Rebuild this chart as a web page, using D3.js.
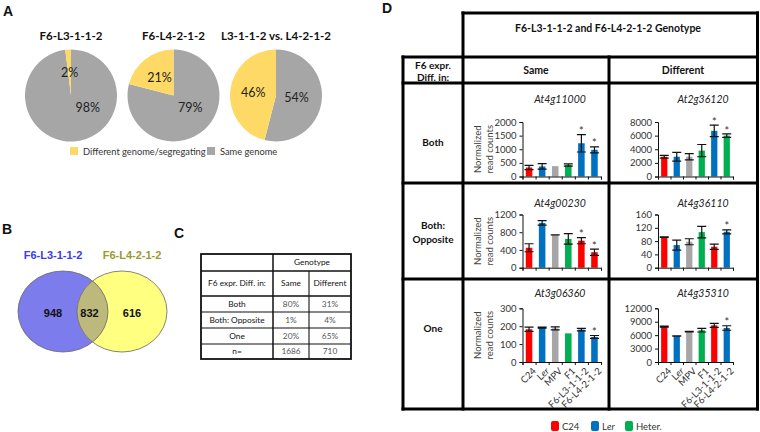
<!DOCTYPE html>
<html><head><meta charset="utf-8">
<script src="https://cdn.jsdelivr.net/npm/d3@7"></script>
<style>
html,body{margin:0;padding:0;background:#fff;}
svg{display:block;font-family:Lato,"Open Sans",sans-serif;}
</style></head>
<body>
<svg id="chart" width="760" height="432"></svg>
<script>
// ---------- DATA ----------
const pieTitles = ["F6-L3-1-1-2", "F6-L4-2-1-2", "L3-1-1-2 vs. L4-2-1-2"];
const pieDifferent = [2, 21, 46];
const pieSame = [98, 79, 54];
const pieLegend = ["Different genome/segregating", "Same genome"];

const vennTitles = ["F6-L3-1-1-2", "F6-L4-2-1-2"];
const vennCounts = [948, 832, 616];

const tableHeader = "Genotype";
const tableColumns = ["F6 expr. Diff. in:", "Same", "Different"];
const tableRows = ["Both", "Both: Opposite", "One", "n="];
const tableSame = ["80%", "1%", "20%", "1686"];
const tableDiff = ["31%", "4%", "65%", "710"];

const dHeader = "F6-L3-1-1-2 and F6-L4-2-1-2 Genotype";
const dRowHead = ["F6 expr.", "Diff. in:"];
const dColumns = ["Same", "Different"];
const dRows = [["Both"], ["Both:", "Opposite"], ["One"]];

const categories = ["C24", "Ler", "MPV", "F1", "F6-L3-1-1-2", "F6-L4-2-1-2"];
const genes = ["At4g11000", "At2g36120", "At4g00230", "At4g36110", "At3g06360", "At4g35310"];
const yMax = [2000, 8000, 1200, 160, 300, 12000];
const yStep = [500, 2000, 400, 40, 100, 3000];

const meansAt4g11000 = [330, 370, 380, 420, 1220, 980];
const errAt4g11000   = [80, 100, null, 40, 320, 110];
const colAt4g11000   = ["C24", "Ler", "MPV", "Heter", "Ler", "Ler"];
const starAt4g11000  = [0, 0, 0, 0, 1, 1];

const meansAt2g36120 = [2900, 2900, 2900, 3800, 6700, 6000];
const errAt2g36120   = [200, 650, 450, 900, 850, 250];
const colAt2g36120   = ["C24", "Ler", "MPV", "Heter", "Ler", "Heter"];
const starAt2g36120  = [0, 0, 0, 0, 1, 1];

const meansAt4g00230 = [450, 1010, 740, 650, 610, 350];
const errAt4g00230   = [90, 50, 0, 120, 70, 70];
const colAt4g00230   = ["C24", "Ler", "MPV", "Heter", "C24", "C24"];
const starAt4g00230  = [0, 0, 0, 0, 1, 1];

const meansAt4g36110 = [92, 68, 78, 107, 63, 108];
const errAt4g36110   = [1, 15, 9, 17, 8, 6];
const colAt4g36110   = ["C24", "Ler", "MPV", "Heter", "C24", "Ler"];
const starAt4g36110  = [0, 0, 0, 0, 0, 1];

const meansAt3g06360 = [183, 192, 188, 160, 181, 140];
const errAt3g06360   = [12, 3, 8, null, 7, 8];
const colAt3g06360   = ["C24", "Ler", "MPV", "Heter", "Ler", "Ler"];
const starAt3g06360  = [0, 0, 0, 0, 0, 1];

const meansAt4g35310 = [7900, 5800, 6800, 7100, 8200, 7600];
const errAt4g35310   = [100, 50, 50, 400, 450, 500];
const colAt4g35310   = ["C24", "Ler", "MPV", "Heter", "C24", "Ler"];
const starAt4g35310  = [0, 0, 0, 0, 0, 1];

const legendKeys = ["C24", "Ler", "Heter."];

// ---------- STYLE ----------
const colors = {C24: "#FF0000", Ler: "#0070C0", MPV: "#A6A6A6", Heter: "#00B050"};
const yellow = "#FFD966", grey = "#A6A6A6";

const svg = d3.select("#chart");

function panelLabel(t, x, y) {
  svg.append("text").attr("x", x).attr("y", y).text(t)
    .attr("font-family", "'Liberation Sans',Arial,sans-serif")
    .attr("font-weight", "bold").attr("font-size", 14).attr("fill", "#111");
}
panelLabel("A", 3, 16);
panelLabel("B", 2, 234);
panelLabel("C", 174, 238);
panelLabel("D", 382, 13);

// ---------- PANEL A: pies ----------
const pieX = d3.scalePoint().domain(pieTitles).range([71, 276]);
const pieR = 46, pieCY = 95.5;
const pieGen = d3.pie().sort(null).value(d => d.v);
const arc = d3.arc().innerRadius(0).outerRadius(pieR);
const labelArc = d3.arc().innerRadius(pieR * 0.5).outerRadius(pieR * 0.5);

pieTitles.forEach((t, i) => {
  const g = svg.append("g").attr("transform", `translate(${pieX(t)},${pieCY})`);
  const data = pieGen([{k: "same", v: pieSame[i]}, {k: "diff", v: pieDifferent[i]}]);
  g.selectAll("path").data(data).join("path")
    .attr("d", arc).attr("fill", d => d.data.k === "same" ? grey : yellow);
  g.selectAll("text.lab").data(data).join("text").attr("class", "lab")
    .attr("transform", d => {
      let [x, y] = labelArc.centroid(d);
      if (d.data.k === "same") { // Excel-style placement toward lower right
        const a = Math.min((d.startAngle + d.endAngle) / 2, 2.2);
        const r = pieR * 0.45;
        x = Math.sin(a) * r; y = -Math.cos(a) * r;
      }
      return `translate(${x},${y})`;
    })
    .attr("text-anchor", "middle").attr("dy", "0.35em")
    .attr("font-size", 12.5).attr("fill", "#222")
    .text(d => d.data.v + "%");
  svg.append("text").attr("x", pieX(t)).attr("y", 40).attr("text-anchor", "middle")
    .attr("font-weight", "bold").attr("font-size", 11.5).attr("fill", "#111").text(t);
});
// legend A
[[yellow, 70, 83], [grey, 207, 220]].forEach((c, i) => {
  svg.append("rect").attr("x", c[1]).attr("y", 147).attr("width", 8).attr("height", 8).attr("fill", c[0]);
  svg.append("text").attr("x", c[2]).attr("y", 155).attr("font-size", 9.3).attr("fill", "#333").text(pieLegend[i]);
});

// ---------- PANEL B: Venn ----------
const vx = d3.scalePoint().domain([0, 1]).range([63, 122]);
const vg = svg.append("g");
const defs = svg.append("defs");
defs.append("clipPath").attr("id", "clipBlue").append("ellipse")
  .attr("cx", vx(0)).attr("cy", 311.5).attr("rx", 45).attr("ry", 40.5);
vg.append("ellipse").attr("cx", vx(0)).attr("cy", 311.5).attr("rx", 45).attr("ry", 40.5).attr("fill", "#7C7CEC");
vg.append("ellipse").attr("cx", vx(1)).attr("cy", 311.5).attr("rx", 45).attr("ry", 40.5).attr("fill", "#FFFF80");
vg.append("ellipse").attr("cx", vx(1)).attr("cy", 311.5).attr("rx", 45).attr("ry", 40.5)
  .attr("fill", "#BDB97C").attr("clip-path", "url(#clipBlue)");
[0, 1].forEach(i => vg.append("ellipse").attr("cx", vx(i)).attr("cy", 311.5).attr("rx", 45).attr("ry", 40.5)
  .attr("fill", "none").attr("stroke", "#666").attr("stroke-width", 0.8));
const vTitleX = [53, 132], vColors = ["#3A3AEE", "#9A9A30"];
vennTitles.forEach((t, i) => svg.append("text").attr("x", vTitleX[i]).attr("y", 259)
  .attr("text-anchor", "middle").attr("font-family", "'Liberation Sans',Arial,sans-serif")
  .attr("font-weight", "bold").attr("font-size", 11).attr("fill", vColors[i]).text(t));
const vNumX = [53, 89.5, 132];
vennCounts.forEach((n, i) => svg.append("text").attr("x", vNumX[i]).attr("y", 317)
  .attr("text-anchor", "middle").attr("font-family", "'Liberation Sans',Arial,sans-serif")
  .attr("font-weight", "bold").attr("font-size", 11).attr("fill", "#111").text(n));

// ---------- PANEL C: table ----------
const cCols = [201, 273, 309, 351];
const cRowsY = [254, 271, 296, 312, 328, 344, 359];
const cg = svg.append("g");
cg.append("rect").attr("x", cCols[0]).attr("y", cRowsY[0]).attr("width", cCols[3] - cCols[0])
  .attr("height", cRowsY[6] - cRowsY[0]).attr("fill", "none").attr("stroke", "#111").attr("stroke-width", 1.8);
cRowsY.slice(1, 6).forEach(y => cg.append("line").attr("x1", cCols[0]).attr("x2", cCols[3])
  .attr("y1", y).attr("y2", y).attr("stroke", "#111").attr("stroke-width", y === 271 || y === 296 ? 1.5 : 1.1));
cg.append("line").attr("x1", cCols[1]).attr("x2", cCols[1]).attr("y1", cRowsY[0]).attr("y2", cRowsY[6]).attr("stroke", "#111").attr("stroke-width", 1.5);
cg.append("line").attr("x1", cCols[2]).attr("x2", cCols[2]).attr("y1", cRowsY[1]).attr("y2", cRowsY[6]).attr("stroke", "#111").attr("stroke-width", 1.1);
function ctext(t, x, y, fill) {
  cg.append("text").attr("x", x).attr("y", y).attr("text-anchor", "middle").attr("dy", "0.35em")
    .attr("font-size", 8.3).attr("fill", fill || "#111").text(t);
}
ctext(tableHeader, (cCols[1] + cCols[3]) / 2, (cRowsY[0] + cRowsY[1]) / 2);
tableColumns.forEach((t, i) => ctext(t, (cCols[i] + cCols[i + 1]) / 2, (cRowsY[1] + cRowsY[2]) / 2));
tableRows.forEach((t, i) => {
  const y = (cRowsY[i + 2] + cRowsY[i + 3]) / 2;
  ctext(t, (cCols[0] + cCols[1]) / 2, y);
  ctext(tableSame[i], (cCols[1] + cCols[2]) / 2, y, "#555");
  ctext(tableDiff[i], (cCols[2] + cCols[3]) / 2, y, "#555");
});

// ---------- PANEL D: grid ----------
const dg = svg.append("g");
const L = 403, C1 = 463, C2 = 609, R = 757.5;
const Y0 = 13, Y1 = 57, Y2 = 83, rowLines = [183, 279], YB = 409;
function dl(x1, y1, x2, y2) {
  dg.append("line").attr("x1", x1).attr("y1", y1).attr("x2", x2).attr("y2", y2)
    .attr("stroke", "#000").attr("stroke-width", 3).attr("stroke-linecap", "square");
}
dl(C1, Y0, R, Y0); dl(R, Y0, R, YB); dl(C1, Y0, C1, YB); dl(L, Y1, L, YB); dl(C2, Y1, C2, YB);
dl(L, Y1, R, Y1); dl(L, Y2, R, Y2); rowLines.forEach(y => dl(L, y, R, y)); dl(L, YB, R, YB);
function bt(t, x, y, size) {
  dg.append("text").attr("x", x).attr("y", y).attr("text-anchor", "middle").attr("dy", "0.35em")
    .attr("font-weight", "bold").attr("font-size", size || 10).attr("fill", "#111").text(t);
}
bt(dHeader, 608, 28, 10.5);
bt(dRowHead[0], 433, 65); bt(dRowHead[1], 433, 77);
bt(dColumns[0], 536, 70, 10.5); bt(dColumns[1], 683, 70, 10.5);
const rowLabelY = [142, 232, 328];
dRows.forEach((lines, i) => lines.forEach((t, j) => bt(t, 433, rowLabelY[i] + (j - (lines.length - 1) / 2) * 14)));

// ---------- PANEL D: bar charts ----------
const chartMeans = [meansAt4g11000, meansAt2g36120, meansAt4g00230, meansAt4g36110, meansAt3g06360, meansAt4g35310];
const chartErr = [errAt4g11000, errAt2g36120, errAt4g00230, errAt4g36110, errAt3g06360, errAt4g35310];
const chartCol = [colAt4g11000, colAt2g36120, colAt4g00230, colAt4g36110, colAt3g06360, colAt4g35310];
const chartStar = [starAt4g11000, starAt2g36120, starAt4g00230, starAt4g36110, starAt3g06360, starAt4g35310];

const colX0 = [522.5, 658], colX1 = [601, 733];
const rowTop = [122, 214.5, 308.3], rowBot = [176.5, 267.7, 362];
const titleX = [560, 703], titleY = [99, 203, 293];

genes.forEach((gene, gi) => {
  const r = Math.floor(gi / 2), c = gi % 2;
  const g = svg.append("g");
  const x = d3.scaleBand().domain(categories).range([colX0[c], colX1[c]]).paddingInner(0.5).paddingOuter(0.25);
  const xi = d3.scaleLinear().domain([0, categories.length]).range([colX0[c], colX1[c]]);
  const y = d3.scaleLinear().domain([0, yMax[gi]]).range([rowBot[r], rowTop[r]]);
  // title
  g.append("text").attr("x", titleX[c]).attr("y", titleY[r]).attr("text-anchor", "middle").attr("dy", "0.35em")
    .attr("font-style", "italic").attr("font-size", 10.5).attr("fill", "#222").text(gene);
  // bars
  const data = categories.map((k, i) => ({k, m: chartMeans[gi][i], e: chartErr[gi][i], col: chartCol[gi][i], s: chartStar[gi][i]}));
  g.selectAll("rect").data(data).join("rect")
    .attr("x", d => x(d.k)).attr("width", x.bandwidth())
    .attr("y", d => y(d.m)).attr("height", d => y(0) - y(d.m))
    .attr("fill", d => colors[d.col]);
  // error bars
  const eb = data.filter(d => d.e !== null);
  const cw = 4.5;
  eb.forEach(d => {
    const cx = x(d.k) + x.bandwidth() / 2;
    const path = d3.path();
    path.moveTo(cx, y(d.m - d.e)); path.lineTo(cx, y(d.m + d.e));
    path.moveTo(cx - cw, y(d.m + d.e)); path.lineTo(cx + cw, y(d.m + d.e));
    path.moveTo(cx - cw, y(d.m - d.e)); path.lineTo(cx + cw, y(d.m - d.e));
    g.append("path").attr("d", path.toString()).attr("stroke", "#111").attr("stroke-width", 1.2).attr("fill", "none");
  });
  // stars
  g.selectAll("text.star").data(data.filter(d => d.s)).join("text").attr("class", "star")
    .attr("x", d => x(d.k) + x.bandwidth() / 2).attr("y", d => y(d.m + (d.e || 0)) + 4)
    .attr("text-anchor", "middle").attr("font-size", 11).attr("fill", "#333").text("*")
    .attr("dy", "-0.3em");
  // y axis
  const ya = d3.axisLeft(y).tickValues(d3.range(0, yMax[gi] + 1, yStep[gi])).tickSize(3).tickPadding(3).tickFormat(d3.format("d"));
  const yg = g.append("g").attr("transform", `translate(${colX0[c]},0)`).call(ya);
  yg.select(".domain").attr("stroke", "#111");
  yg.selectAll(".tick line").attr("stroke", "#111");
  yg.selectAll("text").attr("font-family", "Lato,'Open Sans',sans-serif").attr("font-size", 9.5).attr("fill", "#333");
  // x axis with ticks at category boundaries
  const xa = d3.axisBottom(xi).tickValues(d3.range(0, categories.length + 1)).tickSize(3).tickFormat("");
  const xg = g.append("g").attr("transform", `translate(0,${rowBot[r]})`).call(xa);
  xg.select(".domain").attr("stroke", "#111");
  xg.selectAll(".tick line").attr("stroke", "#111");
  // y-axis title (Same column only)
  if (c === 0) {
    const my = (rowTop[r] + rowBot[r]) / 2;
    ["Normalized", "read counts"].forEach((t, j) => g.append("text")
      .attr("transform", `translate(${478 + j * 12},${my}) rotate(-90)`)
      .attr("text-anchor", "middle").attr("dy", "0.35em").attr("font-size", 9.5).attr("fill", "#444").text(t));
  }
  // x labels on bottom row
  if (r === 2) {
    categories.forEach(k => {
      const t = g.append("text")
        .attr("transform", `translate(${x(k) + x.bandwidth() / 2 + 3},${rowBot[r] + 5}) rotate(-45)`)
        .attr("text-anchor", "end").attr("dy", "0.7em").attr("font-size", 9.5).attr("fill", "#333");
      if (k === "Ler") { t.append("tspan").text("L"); t.append("tspan").attr("font-style", "italic").text("er"); }
      else t.text(k);
    });
  }
});

// legend D
const lg = svg.append("g");
const legX = d3.scaleOrdinal().domain(legendKeys).range([551, 591, 625]);
const legCol = [colors.C24, colors.Ler, colors.Heter];
legendKeys.forEach((k, i) => {
  lg.append("rect").attr("x", legX(k)).attr("y", 421).attr("width", 8).attr("height", 10).attr("rx", 2).attr("fill", legCol[i]);
  const t = lg.append("text").attr("x", legX(k) + 11).attr("y", 429.5).attr("font-size", 9.5).attr("fill", "#333");
  if (k === "Ler") { t.append("tspan").text("L"); t.append("tspan").attr("font-style", "italic").text("er"); }
  else t.text(k);
});
</script>
</body></html>
